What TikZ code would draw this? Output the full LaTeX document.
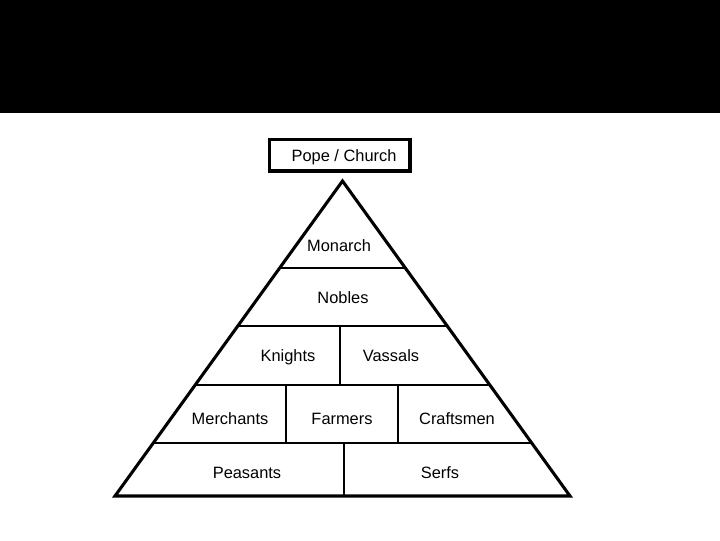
\documentclass[tikz,border=0pt]{standalone}
\usepackage{fontspec}
\setmainfont{Liberation Sans}
\begin{document}
\begin{tikzpicture}[x=0.75pt,y=-0.75pt,
  lbl/.style={font=\fontsize{12.3}{14}\selectfont, inner sep=0pt, text height=8.8pt, text depth=0pt},
  outline/.style={line width=2.3pt, line join=miter},
  inner/.style={line width=2pt}]
\useasboundingbox (0,0) rectangle (720,540);
\fill[black] (0,0) rectangle (720,113);
% Pope box
\draw[outline] (269.5,139.5) rectangle (410,171);
\node[lbl] (pope) at (344,156) {Pope / Church};
% pyramid
\coordinate (apex) at (342.5,181);
\coordinate (bl) at (115,496);
\coordinate (br) at (570,496);
\draw[outline] (apex) -- (br) -- (bl) -- cycle;
% horizontal dividers
\draw[inner] (281,268) -- (404.5,268);
\draw[inner] (238,326) -- (447,326);
\draw[inner] (196,385) -- (489,385);
\draw[inner] (154,443) -- (531,443);
% vertical dividers
\draw[inner] (340,326) -- (340,385);
\draw[inner] (286,385) -- (286,443);
\draw[inner] (398,385) -- (398,443);
\draw[inner] (344,443) -- (344,496);
% labels
\node[lbl] (monarch) at (339,246) {Monarch};
\node[lbl] (nobles) at (343,298) {Nobles};
\node[lbl] (knights) at (288,356) {Knights};
\node[lbl] (vassals) at (391,356) {Vassals};
\node[lbl] (merchants) at (230,419) {Merchants};
\node[lbl] (farmers) at (342,419) {Farmers};
\node[lbl] (craftsmen) at (457,419) {Craftsmen};
\node[lbl] (peasants) at (247,473) {Peasants};
\node[lbl] (serfs) at (440,473) {Serfs};
\end{tikzpicture}
\end{document}
